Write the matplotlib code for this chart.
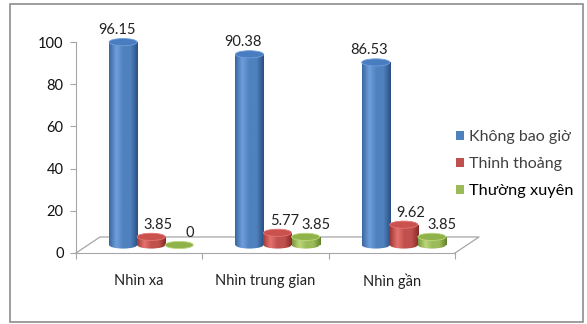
import numpy as np
import matplotlib
matplotlib.use("Agg")
import matplotlib.pyplot as plt
from matplotlib.patches import Rectangle, Ellipse
from matplotlib.colors import LinearSegmentedColormap

plt.rcParams['font.family'] = ['Lato', 'DejaVu Sans']

categories = ["Nhìn xa", "Nhìn trung gian", "Nhìn gần"]
series_names = ["Không bao giờ", "Thỉnh thoảng", "Thường xuyên"]
khong_bao_gio = [96.15, 90.38, 86.53]
thinh_thoang = [3.85, 5.77, 9.62]
thuong_xuyen = [0, 3.85, 3.85]
yticks = [0, 20, 40, 60, 80, 100]

series = [khong_bao_gio, thinh_thoang, thuong_xuyen]
# (dark, light, base, dark edge, top)
shades = [
    ("#3a67a0", "#6f9fdc", "#4f81bd", "#2b5083", "#4a7cc0"),
    ("#a03a37", "#e67370", "#c0504d", "#862b28", "#c9524f"),
    ("#7d9a40", "#bcd77a", "#9bbb59", "#62802b", "#8fb24a"),
]
label_shift = [-0.05, 0.055, 0.08]

fig = plt.figure(figsize=(5.87, 3.24), dpi=100)
W, H = 587, 324
ax = fig.add_axes([76 / W, (H - 253) / H, (455 - 76) / W, (253 - 42) / H])

# outer border
fig.patches.append(Rectangle((10 / W, 2 / H), 573 / W, 318 / H, transform=fig.transFigure,
                             fill=False, edgecolor="#8c8c8c", linewidth=1.2))

depth_y = 7.6      # floor depth in value units
depth_x = 0.19     # floor depth in category units
base = depth_y / 2
bw = 0.222
ell_h = 3.4
line_c = "#a6a6a6"

# floor outline
n = len(categories)
ax.plot([-0.5, -0.5 + depth_x, n - 0.5 + depth_x, n - 0.5],
        [0, depth_y, depth_y, 0], color=line_c, lw=0.9, clip_on=False, zorder=1)

for i, vals in enumerate(series):
    dark, light, mid, edge, top = shades[i]
    cmap = LinearSegmentedColormap.from_list("c%d" % i, [dark, light, mid, mid, edge])
    grad = np.linspace(0, 1, 64)[None, :]
    for j, v in enumerate(vals):
        xc = j + depth_x / 2 + (i - 1) * bw
        x0, x1 = xc - bw / 2, xc + bw / 2
        y1 = base + v
        if v > 0:
            rect = Rectangle((x0, base), bw, v, transform=ax.transData)
            bot = Ellipse((xc, base), bw, ell_h, transform=ax.transData)
            for clip in (rect, bot):
                im = ax.imshow(grad, extent=[x0, x1, base - ell_h, y1], cmap=cmap,
                               aspect='auto', zorder=3, interpolation='bilinear')
                im.set_clip_path(clip)
        ax.add_patch(Ellipse((xc, y1), bw, ell_h, facecolor=top, edgecolor=light,
                             lw=0.6, zorder=4, clip_on=False))
        ax.text(xc + label_shift[i], y1 + 2.4, ("%.2f" % v) if v > 0 else "0", ha='center',
                va='bottom', fontsize=10.5, color="#222222", zorder=5)

ax.set_xlim(-0.5, n - 0.5)
ax.set_ylim(0, 100)

for s in ["top", "right"]:
    ax.spines[s].set_visible(False)
ax.spines["left"].set_color(line_c)
ax.spines["bottom"].set_color(line_c)
ax.set_yticks(yticks)
ax.set_yticklabels([str(t) for t in yticks], fontsize=10.5, color="#111111")
ax.set_xticks(np.arange(-0.5, n, 1.0), minor=False)
ax.set_xticklabels([])
ax.tick_params(axis='both', color=line_c, length=4)
ax.set_xticks(np.arange(n), minor=True)
ax.set_xticklabels(categories, minor=True, fontsize=10.5, color="#222222")
ax.tick_params(axis='x', which='minor', length=0, pad=15)
ax.tick_params(axis='y', pad=5)

handles = [Rectangle((0, 0), 1, 1, facecolor=shades[i][2]) for i in range(3)]
leg = fig.legend(handles, series_names, loc='center left', bbox_to_anchor=(442 / W, 1 - 164 / H),
                 frameon=False, fontsize=11.5, handlelength=0.5, handleheight=0.5,
                 handletextpad=0.3, labelspacing=0.8)
for k, t in enumerate(leg.get_texts()):
    t.set_color("#404040" if k < 2 else "#000000")
leg.get_texts()[2].set_fontsize(11.8)

fig.savefig("out.png", dpi=100)
